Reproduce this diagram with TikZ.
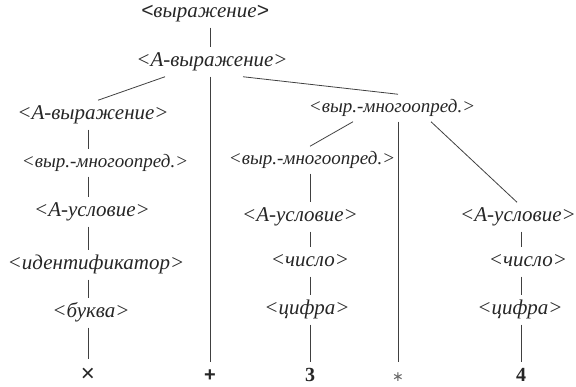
\documentclass[tikz,border=0pt]{standalone}
\usepackage{fontspec}
\setmainfont{Liberation Serif}
\newfontfamily\sansf{Liberation Sans}
\newfontfamily\dvs{DejaVu Sans}
\begin{document}
\begin{tikzpicture}[x=1pt,y=-1pt,
  lbl/.style={inner sep=0pt, outer xsep=0pt, outer ysep=5pt, text=black!85, font=\fontsize{21}{25}\selectfont\itshape, text height=14.5pt, text depth=5pt},
  sml/.style={lbl, font=\fontsize{19}{22}\selectfont\itshape, text height=13pt, text depth=4.5pt},
  leaf/.style={inner sep=0pt, outer xsep=0pt, outer ysep=5pt, text=black!85, text height=14pt, text depth=5pt, font=\fontsize{20}{24}\selectfont},
  edge/.style={draw=black!75, line width=0.8pt}]
\useasboundingbox (0,0) rectangle (576,387);
% nodes
\node[lbl] (e0) at (205,13) {{\sansf <}выражение{\sansf >}};
\node[lbl] (a1) at (212,62) {<A-выражение>};
\node[lbl] (a2) at (93,115) {<A-выражение>};
\node[sml] (m1) at (105,163) {<выр.-многоопред.>};
\node[lbl] (u1) at (92,212) {<A-условие>};
\node[lbl] (id) at (96,265) {<идентификатор>};
\node[lbl] (b) at (91,313) {<буква>};
\node[leaf] (x) at (88,377) {\sansf\fontsize{24}{28}\selectfont ×};
\node[leaf] (plus) at (210,377) {\sansf\bfseries +};
\node[sml] (m2) at (392,108) {<выр.-многоопред.>};
\node[sml] (m3) at (312,160) {<выр.-многоопред.>};
\node[lbl] (u2) at (300,217) {<A-условие>};
\node[lbl] (n2) at (310,262) {<число>};
\node[lbl] (c2) at (307,310) {<цифра>};
\node[leaf] (three) at (310,377) {\bfseries 3};
\node[leaf] (star) at (398,377) {\color{black!60}\dvs\fontsize{14}{16}\selectfont ∗};
\node[lbl] (u3) at (518,217) {<A-условие>};
\node[lbl] (n3) at (528,262) {<число>};
\node[lbl] (c3) at (520,310) {<цифра>};
\node[leaf] (four) at (521,377) {\bfseries 4};
% edges
\draw[edge] (e0.south -| plus) -- (a1.north -| plus);
\draw[edge] ([xshift=-47pt]a1.south) -- ([xshift=5pt]a2.north);
\draw[edge] (a1.south -| plus) -- (plus.north);
\draw[edge] ([xshift=31pt]a1.south) -- ([xshift=6pt]m2.north);
\draw[edge] (a2.south -| x) -- (m1.north -| x);
\draw[edge] (m1.south -| x) -- (u1.north -| x);
\draw[edge] (u1.south -| x) -- (id.north -| x);
\draw[edge] (id.south -| x) -- (b.north -| x);
\draw[edge] (b.south -| x) -- ([yshift=3pt]x.north);
\draw[edge] ([xshift=-39pt]m2.south) -- ([xshift=-2pt]m3.north);
\draw[edge] (m2.south -| star) -- (star.north);
\draw[edge] ([xshift=39pt]m2.south) -- ([xshift=-1pt]u3.north);
\draw[edge] (m3.south -| three) -- (u2.north -| three);
\draw[edge] (u2.south -| three) -- (n2.north -| three);
\draw[edge] (n2.south -| three) -- (c2.north -| three);
\draw[edge] (c2.south -| three) -- (three.north);
\draw[edge] (u3.south -| four) -- (n3.north -| four);
\draw[edge] (n3.south -| four) -- (c3.north -| four);
\draw[edge] (c3.south -| four) -- (four.north);
\end{tikzpicture}
\end{document}
